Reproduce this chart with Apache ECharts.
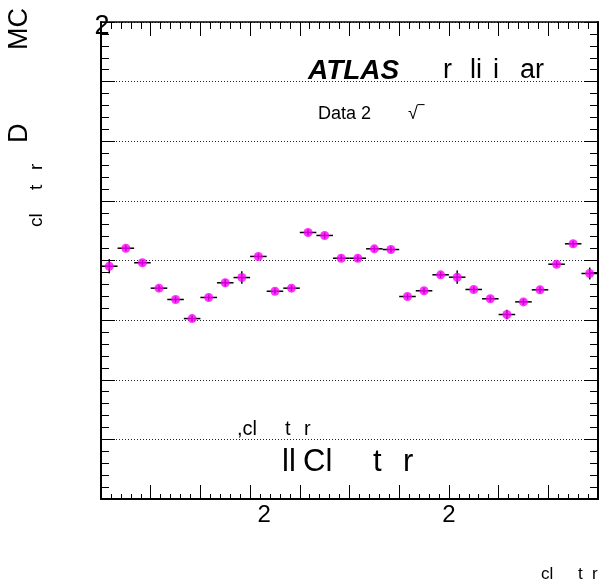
<!DOCTYPE html>
<html>
<head>
<meta charset="utf-8">
<script src="https://cdn.jsdelivr.net/npm/echarts@6/dist/echarts.min.js"></script>
<style>
  html, body { margin: 0; padding: 0; background: #fff; }
  #chart { width: 605px; height: 588px; }
</style>
</head>
<body>
<div id="chart"></div>
<script>
// Data / MC ratio per bin (30 bins)
const ratio = [
  0.9952, 1.0103, 0.9981, 0.9768, 0.9673, 0.9513, 0.9690, 0.9813, 0.9857, 1.0034,
  0.9742, 0.9768, 1.0235, 1.0210, 1.0019, 1.0019, 1.0098, 1.0092, 0.9698, 0.9746,
  0.9880, 0.9860, 0.9757, 0.9679, 0.9547, 0.9653, 0.9754, 0.9969, 1.0140, 0.9891
];
// statistical uncertainty on each ratio point
const ratioErr = [
  0.0060, 0.0025, 0.0025, 0.0025, 0.0025, 0.0025, 0.0025, 0.0030, 0.0053, 0.0025,
  0.0025, 0.0025, 0.0025, 0.0025, 0.0025, 0.0025, 0.0025, 0.0025, 0.0025, 0.0025,
  0.0025, 0.0056, 0.0025, 0.0025, 0.0040, 0.0025, 0.0025, 0.0025, 0.0025, 0.0050
];
// tick labels (only these glyphs show up in the original)
const yTickText = { '1.2': '2' };
const xTickText = { 9: '2', 21: '2' };

const FONT = '"Liberation Sans", Arial, Helvetica, sans-serif';

const chart = echarts.init(document.getElementById('chart'), null, { renderer: 'canvas' });

// small helper for the free-floating annotation texts
const txt = (text, x, y, size, extra) => Object.assign({
  type: 'text', x: x, y: y, silent: true,
  style: {
    text: text, font: size + 'px ' + FONT, fill: '#000',
    textAlign: 'left', textVerticalAlign: 'middle'
  }
}, extra || {});
const vtxt = (text, x, y, size) => txt(text, x, y, size, { rotation: Math.PI / 2 });

const xCommon = {
  type: 'value', min: 0, max: 30, interval: 3,
  axisLine: { show: true, onZero: false, lineStyle: { color: '#000', width: 2 } },
  splitLine: { show: false }
};
// extra x axes that only carry the small ticks (5 per major division)
const xMinor = (pos, len) => ({
  type: 'value', min: 0, max: 30, interval: 0.6, position: pos,
  axisLine: { show: false, onZero: false },
  axisTick: { show: true, inside: true, length: len, lineStyle: { color: '#000', width: 1 } },
  axisLabel: { show: false },
  splitLine: { show: false }
});
const yCommon = {
  type: 'value', min: 0.8, max: 1.2, interval: 0.05,
  axisLine: { show: true, onZero: false, lineStyle: { color: '#000', width: 2 } },
  axisTick: { show: true, inside: true, length: 14, lineStyle: { color: '#000' } },
  minorTick: { show: true, splitNumber: 5, length: 8, lineStyle: { color: '#000', width: 1 } }
};

chart.setOption({
  animation: false,
  backgroundColor: '#fff',
  grid: { left: 101, right: 7, top: 22, bottom: 89 },
  xAxis: [
    Object.assign({}, xCommon, {
      position: 'bottom',
      axisTick: { show: true, inside: true, length: 14, lineStyle: { color: '#000' } },
      axisLabel: {
        show: true, margin: 4, color: '#000', fontFamily: FONT, fontSize: 24,
        formatter: v => {
          const t = xTickText[Math.round(v)];
          if (!t || Math.abs(v - Math.round(v)) > 1e-6) return '';
          return Math.round(v) === 9 ? '{o|' + t + '}' : t;
        },
        rich: { o: { padding: [0, 0, 0, 28], fontSize: 24, fontFamily: FONT, color: '#000' } }
      }
    }),
    Object.assign({}, xCommon, {
      position: 'top',
      axisLine: { show: true, onZero: false, lineStyle: { color: '#000', width: 1.5 } },
      axisTick: { show: true, inside: true, length: 14, lineStyle: { color: '#000' } },
      axisLabel: { show: false }
    }),
    xMinor('bottom', 5),
    xMinor('top', 7)
  ],
  yAxis: [
    Object.assign({}, yCommon, {
      position: 'left',
      splitLine: { show: true, lineStyle: { color: '#222', type: [1, 2], width: 1 } },
      axisLabel: {
        show: true, margin: -1, align: 'center', color: '#000',
        showMaxLabel: true,
        formatter: v => {
          for (const k in yTickText) if (Math.abs(v - parseFloat(k)) < 1e-6) return '{t|' + yTickText[k] + '}';
          return '';
        },
        rich: { t: { padding: [10, 0, 0, 0], fontSize: 27, fontFamily: FONT, color: '#000' } }
      }
    }),
    Object.assign({}, yCommon, {
      position: 'right',
      splitLine: { show: false },
      axisLabel: { show: false }
    })
  ],
  series: [
    {
      type: 'custom',
      xAxisIndex: 0, yAxisIndex: 0,
      z: 2,
      renderItem: (params, api) => {
        const x = api.value(0), y = api.value(1), e = api.value(2);
        const l = api.coord([x - 0.5, y]), r = api.coord([x + 0.5, y]);
        const t = api.coord([x, y + e]), b = api.coord([x, y - e]);
        return {
          type: 'group',
          children: [
            { type: 'line', shape: { x1: l[0], y1: l[1], x2: r[0], y2: r[1] },
              style: { stroke: '#000', lineWidth: 1.5 } },
            { type: 'line', shape: { x1: t[0], y1: t[1], x2: b[0], y2: b[1] },
              style: { stroke: '#000', lineWidth: 1.5 } }
          ]
        };
      },
      data: ratio.map((v, i) => [i + 0.5, v, ratioErr[i]])
    },
    {
      type: 'scatter',
      xAxisIndex: 0, yAxisIndex: 0,
      z: 3,
      symbol: 'circle',
      symbolSize: 9,
      itemStyle: { color: '#ff00ff' },
      data: ratio.map((v, i) => [i + 0.5, v])
    }
  ],
  graphic: [
    // y axis title pieces
    vtxt('MC', 20, 50, 27),
    vtxt('D', 20, 143, 27),
    vtxt('cl', 37, 227, 19),
    vtxt('t', 37, 190, 19),
    vtxt('r', 37, 170, 19),
    // ATLAS label
    txt('ATLAS', 308, 71, 28, { style: {
      text: 'ATLAS', font: 'italic bold 28px ' + FONT, fill: '#000',
      textAlign: 'left', textVerticalAlign: 'middle' } }),
    txt('r', 443, 71, 27),
    txt('li', 470, 71, 27),
    txt('i', 493, 71, 27),
    txt('ar', 520, 71, 27),
    txt('Data 2', 318, 114, 18),
    txt('\u221A\u203E', 408, 114, 18),
    // selection labels
    txt(',cl', 237, 429, 20),
    txt('t', 285, 429, 20),
    txt('r', 304, 429, 20),
    txt('ll', 282, 462, 31),
    txt('Cl', 303, 462, 31),
    txt('t', 373, 462, 31),
    txt('r', 403, 462, 31),
    // x axis title pieces
    txt('cl', 541, 574, 17),
    txt('t', 578, 574, 17),
    txt('r', 592, 574, 17)
  ]
});
</script>
</body>
</html>
